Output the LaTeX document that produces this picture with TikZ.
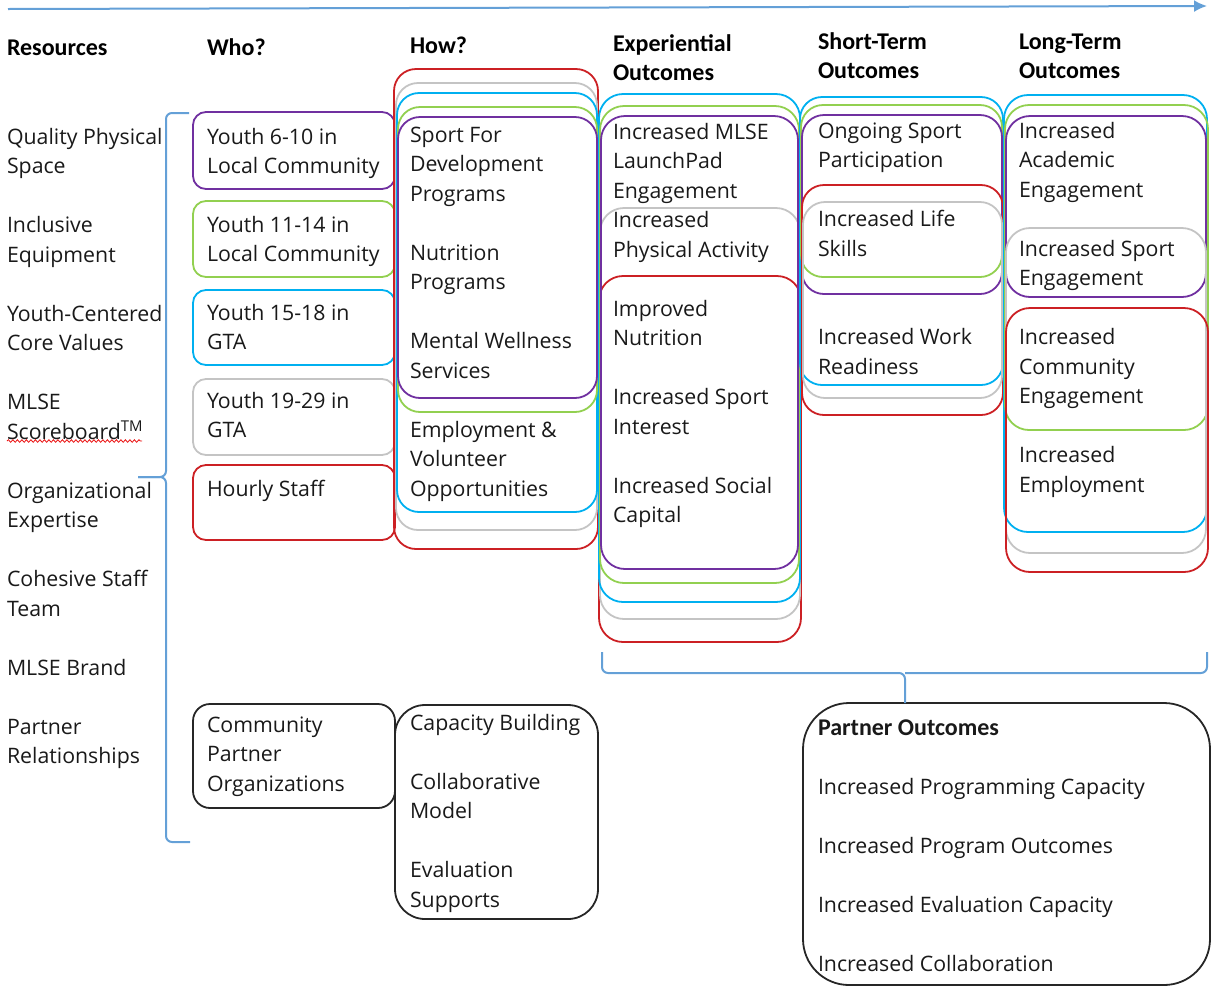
\documentclass[tikz,border=0pt]{standalone}
\usepackage{fontspec}
\setmainfont{Open Sans}
\newfontfamily\headfont{Carlito}
\usetikzlibrary{arrows.meta,decorations.pathmorphing}
\definecolor{cpurple}{RGB}{112,48,160}
\definecolor{cgreen}{RGB}{146,208,80}
\definecolor{cblue}{RGB}{0,176,240}
\definecolor{cgray}{RGB}{196,196,196}
\definecolor{cred}{RGB}{204,32,36}
\definecolor{cblack}{RGB}{38,38,38}
\definecolor{cbrace}{RGB}{100,160,215}
\definecolor{ctext}{RGB}{25,25,25}
\definecolor{cspell}{RGB}{235,20,20}
\tikzset{
  outcome box/.style={anchor=north west, inner sep=0pt, outer sep=0pt, line width=1.8pt},
  txt/.style={anchor=north west, inner sep=0pt, outer sep=0pt, align=left, text=ctext,
    font=\fontsize{21.3}{29.5}\selectfont},
  head/.style={txt, text=black, font=\headfont\bfseries\fontsize{24}{29.5}\selectfont},
  brace/.style={draw=cbrace, line width=2pt, rounded corners=6pt},
  timeline/.style={draw=cbrace, line width=2pt, -{Latex[length=13pt,width=12pt]}},
  spell/.style={draw=cspell, line width=0.8pt, decorate, decoration={snake, amplitude=1.3pt, segment length=4.5pt}}
}
% name, x1, y1, x2, y2, colour, corner radius
\newcommand\boxnode[7]{\node[outcome box, draw=#6, rounded corners=#7pt,
  minimum width={(#4-#2)*1pt}, minimum height={(#5-#3)*1pt}] (#1) at (#2,#3) {};}
\begin{document}
\begin{tikzpicture}[x=1pt,y=-1pt]
\useasboundingbox (0,0) rectangle (1212,986);

% timeline arrow
\coordinate (tlstart) at (8,9);
\coordinate (tlend) at (1207,6);
\draw[timeline] (tlstart) -- (tlend);

% headers
\node[head] (hres) at (7,{55-20.65}) {\strut Resources};
\node[head] (hwho) at (207,{55-20.65}) {\strut Who?};
\node[head] (hhow) at (410,{53-20.65}) {\strut How?};
\node[head] (hexp) at (613,{51-20.65}) {\strut Experiential\\Outcomes};
\node[head] (hshort) at (818,{49-20.65}) {\strut Short-Term\\Outcomes};
\node[head] (hlong) at (1019,{49-20.65}) {\strut Long-Term\\Outcomes};

% resources list
\node[txt] (res) at (7,{144-20.65}) {\strut Quality Physical\\Space\\\strut\\Inclusive\\Equipment\\\strut\\Youth-Centered\\Core Values\\\strut\\MLSE\\Scoreboard\textsuperscript{TM}\\\strut\\Organizational\\Expertise\\\strut\\Cohesive Staff\\Team\\\strut\\MLSE Brand\\\strut\\Partner\\Relationships};
\coordinate (spellA) at (7,441);
\coordinate (spellB) at (142,441);
\draw[spell] (spellA) -- (spellB);

% left brace
\coordinate (lbtop) at (189,113);
\coordinate (lbtip) at (138,477);
\coordinate (lbbot) at (190,842);
\draw[brace] (lbtop) -- (166,113) -- (166,477) -- (lbtip);
\draw[brace] (lbtip) -- (166,477) -- (166,842) -- (lbbot);

% Who? column
\boxnode{w1}{193}{112}{395}{189}{cpurple}{13}
\boxnode{w2}{193}{201}{395}{277}{cgreen}{13}
\boxnode{w3}{193}{290}{395}{365}{cblue}{13}
\boxnode{w4}{193}{379}{395}{455}{cgray}{13}
\boxnode{w5}{193}{465}{395}{540}{cred}{13}
\boxnode{w6}{193}{704}{395}{808}{cblack}{17}
\node[txt] (tw1) at (207,{144-20.65}) {\strut Youth 6-10 in\\Local Community};
\node[txt] (tw2) at (207,{232-20.65}) {\strut Youth 11-14 in\\Local Community};
\node[txt] (tw3) at (207,{320-20.65}) {\strut Youth 15-18 in\\GTA};
\node[txt] (tw4) at (207,{408-20.65}) {\strut Youth 19-29 in\\GTA};
\node[txt] (tw5) at (207,{496-20.65}) {\strut Hourly Staff};
\node[txt] (tw6) at (207,{732-20.65}) {\strut Community\\Partner\\Organizations};

% How? column
\boxnode{h1}{394}{69}{598}{549}{cred}{22}
\boxnode{h2}{396}{83}{597}{530}{cgray}{22}
\boxnode{h3}{397}{93}{597}{512}{cblue}{22}
\boxnode{h4}{398}{107}{597}{412}{cgreen}{22}
\boxnode{h5}{398}{117}{597}{398}{cpurple}{22}
\boxnode{h6}{395}{705}{598}{919}{cblack}{30}
\node[txt] (th1) at (410,{142-20.65}) {\strut Sport For\\Development\\Programs\\\strut\\Nutrition\\Programs\\\strut\\Mental Wellness\\Services\\\strut\\Employment \&\\Volunteer\\Opportunities};
\node[txt] (th2) at (410,{730-20.65}) {\strut Capacity Building\\\strut\\Collaborative\\Model\\\strut\\Evaluation\\Supports};

% Experiential outcomes
\boxnode{e1}{599}{276}{801}{642}{cred}{24}
\boxnode{e2}{600}{208}{800}{619}{cgray}{24}
\boxnode{e3}{599}{94}{800}{602}{cblue}{24}
\boxnode{e4}{600}{106}{799}{583}{cgreen}{24}
\boxnode{e5}{601}{116}{798}{569}{cpurple}{24}
\node[txt] (te) at (613,{139-20.65}) {\strut Increased MLSE\\LaunchPad\\Engagement\\Increased\\Physical Activity\\\strut\\Improved\\Nutrition\\\strut\\Increased Sport\\Interest\\\strut\\Increased Social\\Capital};

% Short-term outcomes
\boxnode{s1}{800}{97}{1003}{385}{cblue}{22}
\boxnode{s2}{801}{105}{1002}{277}{cgreen}{22}
\boxnode{s3}{802}{115}{1002}{294}{cpurple}{22}
\boxnode{s4}{802}{185}{1003}{415}{cred}{22}
\boxnode{s5}{803}{202}{1002}{398}{cgray}{22}
\node[txt] (ts) at (818,{138-20.65}) {\strut Ongoing Sport\\Participation\\\strut\\Increased Life\\Skills\\\strut\\\strut\\Increased Work\\Readiness};

% Long-term outcomes
\boxnode{l1}{1004}{95}{1207}{532}{cblue}{24}
\boxnode{l2}{1005}{105}{1208}{430}{cgreen}{24}
\boxnode{l3}{1006}{116}{1206}{297}{cpurple}{24}
\boxnode{l4}{1006}{228}{1206}{553}{cgray}{24}
\boxnode{l5}{1006}{308}{1208}{572}{cred}{24}
\node[txt] (tl) at (1019,{138-20.65}) {\strut Increased\\Academic\\Engagement\\\strut\\Increased Sport\\Engagement\\\strut\\Increased\\Community\\Engagement\\\strut\\Increased\\Employment};

% Partner outcomes
\boxnode{po}{803}{703}{1210}{985}{cblack}{46}
\node[txt] (tpo) at (818,{735-20.65}) {\strut{\headfont\bfseries\fontsize{24}{29.5}\selectfont Partner Outcomes}\\\strut\\Increased Programming Capacity\\\strut\\Increased Program Outcomes\\\strut\\Increased Evaluation Capacity\\\strut\\Increased Collaboration};

% bottom brace to partner outcomes
\coordinate (bbl) at (602,652);
\coordinate (bbr) at (1207,652);
\coordinate (bbmid) at (905,673);
\draw[brace] (bbl) -- (602,673) -- (bbmid) -- (bbmid |- po.north);
\draw[brace] (bbr) -- (1207,673) -- (bbmid);
\end{tikzpicture}
\end{document}
